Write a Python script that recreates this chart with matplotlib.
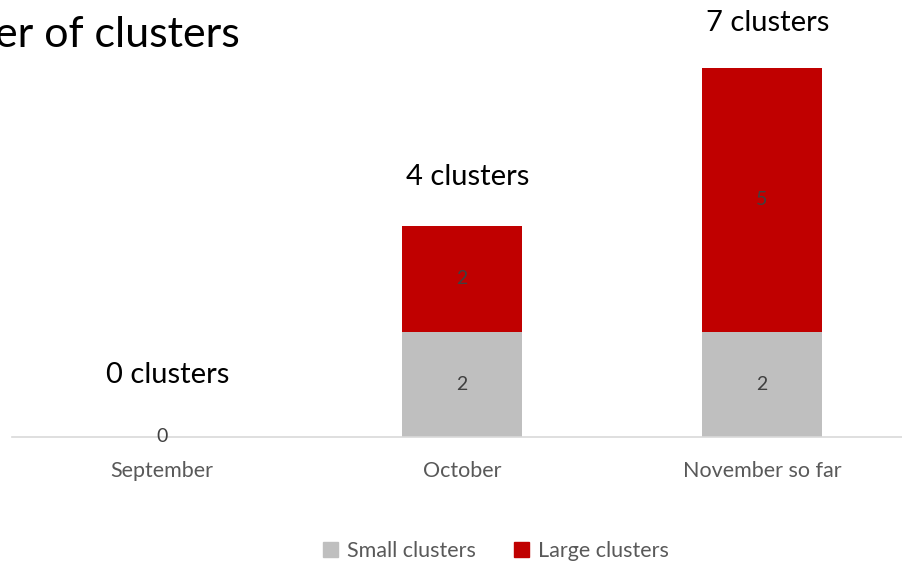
import matplotlib.pyplot as plt
import matplotlib.patches as mpatches
import numpy as np

plt.rcParams['font.family'] = ['Lato', 'DejaVu Sans']

months = ['September', 'October', 'November so far']
small_clusters = [0, 2, 2]
large_clusters = [0, 2, 5]
total_labels = ['0 clusters', '4 clusters', '7 clusters']
# height of the total labels (data units), they are hand placed boxes in the original
total_label_y = [1.03, 4.77, 7.70]

c_small = '#BFBFBF'
c_large = '#C00000'
txt_grey = '#595959'

fig = plt.figure(figsize=(9.02, 5.64), dpi=100)
ax = fig.add_axes([12/902, 127/564, 900/902, 422/564])

x = np.arange(len(months))
b1 = ax.bar(x, small_clusters, width=0.4, color=c_small, label='Small clusters')
b2 = ax.bar(x, large_clusters, width=0.4, bottom=small_clusters, color=c_large, label='Large clusters')

ax.bar_label(b1, labels=[str(v) for v in small_clusters], label_type='center',
             color='#404040', fontsize=14)
ax.bar_label(b2, labels=[str(v) if v else '' for v in large_clusters], label_type='center',
             color='#404040', fontsize=14)

for i, (lab, yy) in enumerate(zip(total_labels, total_label_y)):
    ax.text(i + 0.02, yy, lab, ha='center', va='baseline', fontsize=21, color='black')

ax.set_xlim(-0.5, 2.5)
ax.set_ylim(0, 8)
ax.set_yticks([])
ax.set_xticks(x)
ax.set_xticklabels(months, fontsize=15.5, color=txt_grey)
ax.tick_params(axis='x', length=0, pad=17)
for s in ['top', 'right', 'left']:
    ax.spines[s].set_visible(False)
ax.spines['bottom'].set_color('#D9D9D9')
ax.spines['bottom'].set_linewidth(1.2)

# title runs off the left edge, as in the original
fig.text(240/902, 1 - 47/564, 'Number of clusters', ha='right', va='baseline',
         fontsize=31, color='black')

handles = [mpatches.Patch(color=c_small, label='Small clusters'),
           mpatches.Patch(color=c_large, label='Large clusters')]
fig.legend(handles=handles, loc='center', bbox_to_anchor=(496/902, 1 - 551/564),
           ncol=2, frameon=False, fontsize=15.5, labelcolor=txt_grey,
           handlelength=0.7, handleheight=0.7, handletextpad=0.4, columnspacing=1.8)

fig.savefig('out.png', dpi=100)
